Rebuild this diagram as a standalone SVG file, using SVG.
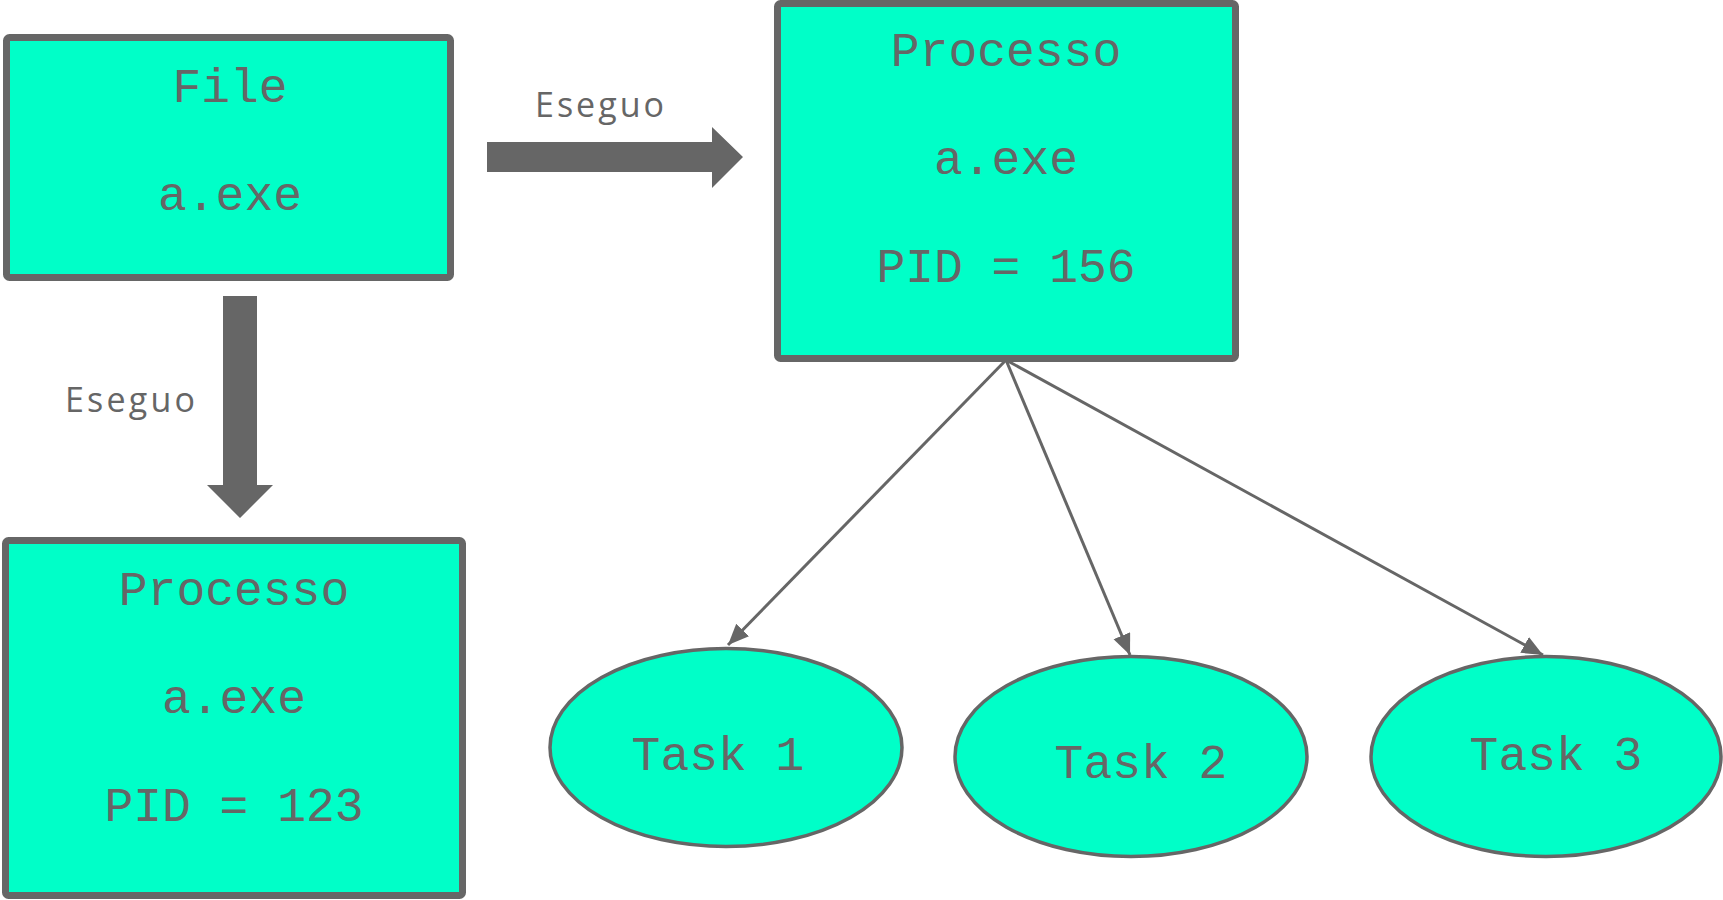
<svg xmlns="http://www.w3.org/2000/svg" width="1723" height="900" viewBox="0 0 1723 900">
  <style>
    .box { fill: #00FFC8; stroke: #666666; stroke-width: 7; }
    .task { fill: #00FFC8; stroke: #666666; stroke-width: 3.5; }
    .mono { font-family: "Liberation Mono", "DejaVu Sans Mono", monospace; font-size: 48px; fill: #666666; text-anchor: middle; }
    .label { font-family: "Open Sans", "Liberation Sans", sans-serif; font-size: 34px; fill: #666666; }
    .big-arrow { fill: #666666; }
    .link { stroke: #666666; stroke-width: 3; fill: none; }
  </style>
  <defs>
    <marker id="tip" markerUnits="userSpaceOnUse" markerWidth="24" markerHeight="20" refX="21" refY="9" orient="auto">
      <path d="M0,0 L21,9 L0,18 Z" fill="#666666"/>
    </marker>
  </defs>
  <rect width="1723" height="900" fill="#ffffff"/>

  <!-- connectors -->
  <g id="connectors">
    <path class="big-arrow" d="M487,142 L712,142 L712,127 L743,157 L712,188 L712,172 L487,172 Z"/>
    <text class="label" x="535" y="117" textLength="129" lengthAdjust="spacing">Eseguo</text>
    <path class="big-arrow" d="M223,296 L257,296 L257,485 L273,485 L240,518 L207,485 L223,485 Z"/>
    <text class="label" x="65" y="412" textLength="130" lengthAdjust="spacing">Eseguo</text>
    <line class="link" x1="1006" y1="360" x2="728" y2="645" marker-end="url(#tip)"/>
    <line class="link" x1="1006" y1="360" x2="1130" y2="655" marker-end="url(#tip)"/>
    <line class="link" x1="1006" y1="360" x2="1543" y2="655" marker-end="url(#tip)"/>
  </g>

  <!-- executable file -->
  <g id="file">
    <rect class="box" x="6.5" y="37.5" width="444" height="240" rx="3"/>
    <text class="mono" x="230" y="102">File</text>
    <text class="mono" x="230" y="210">a.exe</text>
  </g>

  <!-- running process PID 156 -->
  <g id="process-156">
    <rect class="box" x="777.5" y="3.5" width="458" height="355" rx="3"/>
    <text class="mono" x="1006" y="66">Processo</text>
    <text class="mono" x="1006" y="174">a.exe</text>
    <text class="mono" x="1006" y="282">PID = 156</text>
  </g>

  <!-- running process PID 123 -->
  <g id="process-123">
    <rect class="box" x="5.5" y="540.5" width="457" height="355" rx="3"/>
    <text class="mono" x="234" y="605">Processo</text>
    <text class="mono" x="234" y="713">a.exe</text>
    <text class="mono" x="234" y="821">PID = 123</text>
  </g>

  <!-- tasks -->
  <g id="task-1">
    <ellipse class="task" cx="726" cy="747.5" rx="176" ry="99"/>
    <text class="mono" x="718" y="770">Task 1</text>
  </g>
  <g id="task-2">
    <ellipse class="task" cx="1131" cy="756.5" rx="176" ry="100"/>
    <text class="mono" x="1141" y="778">Task 2</text>
  </g>
  <g id="task-3">
    <ellipse class="task" cx="1546" cy="756.5" rx="175" ry="100"/>
    <text class="mono" x="1556" y="770">Task 3</text>
  </g>
</svg>
